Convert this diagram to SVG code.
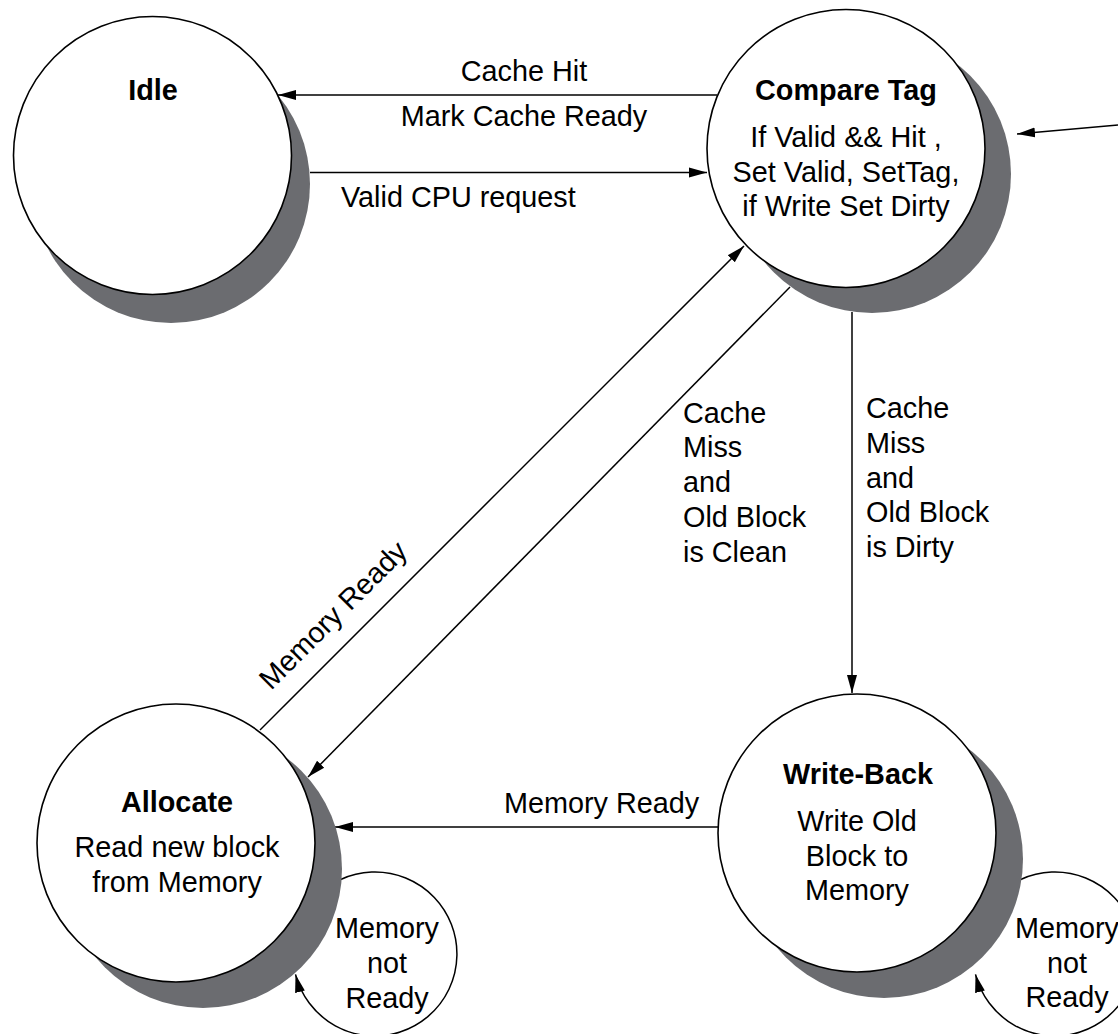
<svg xmlns="http://www.w3.org/2000/svg" width="1118" height="1034" viewBox="0 0 1118 1034">
<style>
text{font-family:"Liberation Sans",Arial,Helvetica,sans-serif;font-size:28.8px;fill:#000}
.t{font-weight:bold}
.c{text-anchor:middle}
.sh{fill:#6b6c70}
.nd{fill:#fff;stroke:#000;stroke-width:1.6}
.ln{fill:none;stroke:#000;stroke-width:1.5}
.ar{marker-end:url(#ah)}
</style>
<defs>
<marker id="ah" markerUnits="userSpaceOnUse" markerWidth="19" markerHeight="12" refX="18" refY="6" orient="auto">
<path d="M0,1 L18,6 L0,11 z" fill="#000"/>
</marker>
</defs>
<rect width="1118" height="1034" fill="#fff"/>

<g id="connectors">
<line class="ln ar" x1="717" y1="95" x2="278" y2="95"/>
<line class="ln ar" x1="310" y1="172.5" x2="707" y2="172.5"/>
<line class="ln ar" x1="1118" y1="125" x2="1017" y2="134"/>
<line class="ln ar" x1="260" y1="730" x2="744" y2="246"/>
<line class="ln ar" x1="790" y1="287" x2="308" y2="777"/>
<line class="ln ar" x1="852" y1="312" x2="852" y2="693"/>
<line class="ln ar" x1="718" y1="827" x2="335" y2="827"/>
<path class="ln ar" d="M340.7,879.5 A82,82 0 1 1 295.5,974.4"/>
<path class="ln ar" d="M1020.7,879.5 A82,82 0 1 1 975.5,974.4"/>
</g>

<g id="edge-labels">
<text class="c" x="524" y="81">Cache Hit</text>
<text class="c" x="524" y="126">Mark Cache Ready</text>
<text x="341" y="207">Valid CPU request</text>
<text class="c" transform="translate(340,622) rotate(-45)">Memory Ready</text>
<text x="683" y="423">Cache</text>
<text x="683" y="457">Miss</text>
<text x="683" y="492">and</text>
<text x="683" y="527">Old Block</text>
<text x="683" y="562">is Clean</text>
<text x="866" y="418">Cache</text>
<text x="866" y="453">Miss</text>
<text x="866" y="488">and</text>
<text x="866" y="522">Old Block</text>
<text x="866" y="557">is Dirty</text>
<text x="504" y="813">Memory Ready</text>
<text class="c" x="387" y="938">Memory</text>
<text class="c" x="387" y="973">not</text>
<text class="c" x="387" y="1008">Ready</text>
<text class="c" x="1067" y="938">Memory</text>
<text class="c" x="1067" y="973">not</text>
<text class="c" x="1067" y="1007">Ready</text>
</g>

<g id="idle">
<circle class="sh" cx="171" cy="184" r="139"/>
<circle class="nd" cx="152.5" cy="155.5" r="139"/>
<text class="t c" x="153" y="100">Idle</text>
</g>

<g id="compare-tag">
<circle class="sh" cx="872" cy="174" r="139"/>
<circle class="nd" cx="846" cy="148.5" r="139"/>
<text class="t c" x="846" y="100">Compare Tag</text>
<text class="c" x="846" y="147">If Valid &amp;&amp; Hit ,</text>
<text class="c" x="846" y="182">Set Valid, SetTag,</text>
<text class="c" x="846" y="216">if Write Set Dirty</text>
</g>

<g id="allocate">
<circle class="sh" cx="203" cy="869" r="139"/>
<circle class="nd" cx="176" cy="843" r="139"/>
<text class="t c" x="177" y="812">Allocate</text>
<text class="c" x="177" y="857">Read new block</text>
<text class="c" x="177" y="892">from Memory</text>
</g>

<g id="write-back">
<circle class="sh" cx="884" cy="859" r="139"/>
<circle class="nd" cx="857" cy="833" r="139"/>
<text class="t c" x="858" y="784">Write-Back</text>
<text class="c" x="857" y="831">Write Old</text>
<text class="c" x="857" y="866">Block to</text>
<text class="c" x="857" y="900">Memory</text>
</g>
</svg>
